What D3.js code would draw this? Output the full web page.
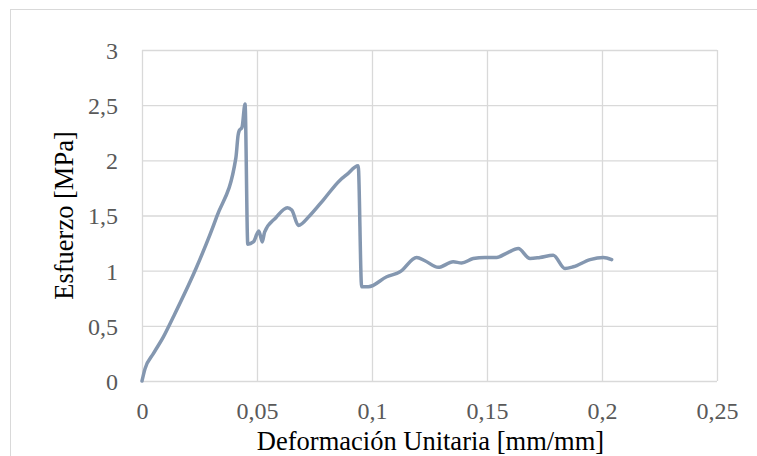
<!DOCTYPE html>
<html><head><meta charset="utf-8">
<script src="https://cdn.jsdelivr.net/npm/d3@7"></script>
</head><body style="margin:0">
<script>
const strain = [0, 0.0013, 0.0050, 0.0093, 0.0136, 0.0238, 0.0325, 0.0408, 0.0418, 0.0423, 0.0435, 0.0448, 0.0460,
  0.0484, 0.0508, 0.0523, 0.0533, 0.0582, 0.0632, 0.0651, 0.0680, 0.0730, 0.0788, 0.0861, 0.0890, 0.0940,
  0.0955, 0.0984, 0.1064, 0.1122, 0.1194, 0.1230, 0.1288, 0.1353, 0.1390, 0.1440, 0.1491, 0.1542, 0.1586,
  0.1636, 0.1687, 0.1730, 0.1788, 0.1839, 0.1875, 0.1948, 0.2006, 0.2042];
const stress = [0, 0.11, 0.25, 0.40, 0.58, 1.035, 1.49, 2.02, 2.23, 2.27, 2.30, 2.51, 1.24,
  1.26, 1.36, 1.26, 1.35, 1.48, 1.57, 1.55, 1.41, 1.50, 1.64, 1.82, 1.87, 1.95,
  0.854, 0.854, 0.945, 0.99, 1.12, 1.09, 1.03, 1.08, 1.07, 1.11, 1.12, 1.12, 1.16,
  1.20, 1.11, 1.12, 1.14, 1.02, 1.035, 1.10, 1.12, 1.10];
const xTicks = [0, 0.05, 0.1, 0.15, 0.2, 0.25];
const yTicks = [0, 0.5, 1, 1.5, 2, 2.5, 3];
const xTitle = "Deformación Unitaria [mm/mm]";
const yTitle = "Esfuerzo [MPa]";

const W = 757, H = 456;
const m = {left: 142, top: 50, right: 717, bottom: 381};
const fmt = d => String(d).replace(".", ",");
const FONT = '"Liberation Serif"';

const svg = d3.select("body").append("svg").attr("width", W).attr("height", H)
  .style("display", "block").style("font-family", FONT);
svg.append("rect").attr("x", 10.5).attr("y", 9.5).attr("width", W).attr("height", H)
  .attr("fill", "#fff").attr("stroke", "#d9d9d9").attr("stroke-width", 1);

const x = d3.scaleLinear().domain([0, 0.25]).range([m.left, m.right]);
const y = d3.scaleLinear().domain([0, 3]).range([m.bottom, m.top]);

const gx = svg.append("g").attr("transform", `translate(0,${m.bottom})`)
  .call(d3.axisBottom(x).tickValues(xTicks).tickSize(-(m.bottom - m.top)).tickFormat(fmt).tickPadding(21));
const gy = svg.append("g").attr("transform", `translate(${m.left},0)`)
  .call(d3.axisLeft(y).tickValues(yTicks).tickSize(-(m.right - m.left)).tickFormat(fmt).tickPadding(24));
[gx, gy].forEach(g => {
  g.attr("font-family", null).attr("font-size", null);
  g.select(".domain").remove();
  g.selectAll(".tick line").attr("stroke", "#d9d9d9").attr("stroke-width", 1.3);
  g.selectAll(".tick text").attr("fill", "#595959")
    .style("font-family", FONT).style("font-size", "24px");
});
gx.selectAll(".tick text").attr("dy", "0.71em");
gy.selectAll(".tick text").attr("dy", "0.35em");

const data = strain.map((s, i) => [s, stress[i]]);
svg.append("path").datum(data)
  .attr("fill", "none").attr("stroke", "#8497b0").attr("stroke-width", 3.5)
  .attr("stroke-linejoin", "round").attr("stroke-linecap", "round")
  .attr("d", d3.line().x(d => x(d[0])).y(d => y(d[1])).curve(d3.curveMonotoneX));

svg.append("text").attr("x", (m.left + m.right) / 2 + 1).attr("y", 450)
  .attr("text-anchor", "middle").style("font-family", FONT).style("font-size", "26.5px")
  .attr("fill", "#000").text(xTitle);
svg.append("text").attr("transform", `translate(73,${(m.top + m.bottom) / 2}) rotate(-90)`)
  .attr("text-anchor", "middle").style("font-family", FONT).style("font-size", "26.5px")
  .attr("fill", "#000").text(yTitle);
</script>
</body></html>
